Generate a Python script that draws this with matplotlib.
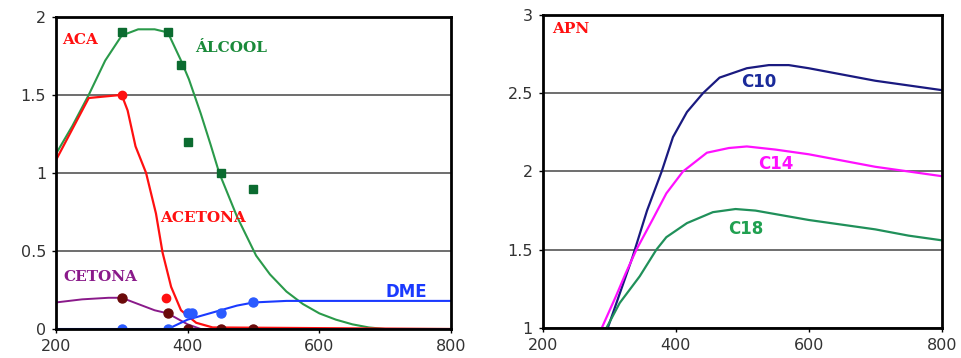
import matplotlib
matplotlib.use("Agg")
import matplotlib.pyplot as plt

# painel esquerdo - curvas
alc_x = [200, 225, 250, 275, 300, 325, 350, 370, 390, 402, 420, 435, 448, 475, 504, 525, 550, 575, 600, 625, 650, 675, 700, 800]
alc_y = [1.12, 1.3, 1.5, 1.72, 1.88, 1.92, 1.92, 1.9, 1.72, 1.6, 1.38, 1.18, 1.0, 0.72, 0.47, 0.35, 0.24, 0.16, 0.10, 0.06, 0.03, 0.01, 0.0, 0.0]
alc_px = [300, 370, 390, 400, 450, 500]
alc_py = [1.9, 1.9, 1.69, 1.2, 1.0, 0.9]

aca_x = [200, 220, 240, 250, 275, 300, 309, 321, 337, 352, 362, 375, 390, 413, 438, 800]
aca_y = [1.08, 1.24, 1.4, 1.48, 1.49, 1.5, 1.4, 1.17, 1.0, 0.74, 0.49, 0.27, 0.12, 0.04, 0.01, 0.0]
aca_px = [300, 367]
aca_py = [1.5, 0.2]

cet_x = [200, 240, 280, 300, 325, 350, 370, 400, 420, 800]
cet_y = [0.17, 0.19, 0.2, 0.2, 0.16, 0.12, 0.1, 0.03, 0.0, 0.0]
cet_px = [300, 370, 400, 450, 500]
cet_py = [0.2, 0.1, 0.0, 0.0, 0.0]

dme_x = [200, 370, 385, 400, 425, 450, 475, 500, 550, 800]
dme_y = [0.0, 0.0, 0.03, 0.06, 0.09, 0.12, 0.15, 0.17, 0.18, 0.18]
dme_px = [300, 370, 400, 407, 450, 500]
dme_py = [0.0, 0.0, 0.1, 0.1, 0.1, 0.17]

# painel direito - APN
c10_x = [298, 316, 335, 357, 379, 396, 417, 441, 466, 507, 540, 570, 600, 650, 700, 750, 800]
c10_y = [1.0, 1.22, 1.45, 1.75, 2.0, 2.22, 2.38, 2.5, 2.6, 2.66, 2.68, 2.68, 2.66, 2.62, 2.58, 2.55, 2.52]
c14_x = [289, 310, 325, 341, 365, 386, 411, 447, 480, 507, 550, 600, 650, 700, 750, 800]
c14_y = [1.0, 1.2, 1.35, 1.5, 1.69, 1.86, 2.0, 2.12, 2.15, 2.16, 2.14, 2.11, 2.07, 2.03, 2.0, 1.97]
c18_x = [296, 316, 346, 371, 386, 417, 456, 490, 520, 560, 600, 650, 700, 750, 800]
c18_y = [1.0, 1.16, 1.33, 1.5, 1.58, 1.67, 1.74, 1.76, 1.75, 1.72, 1.69, 1.66, 1.63, 1.59, 1.56]

fig = plt.figure(figsize=(9.62, 3.58), dpi=100)
ax1 = fig.add_axes([0.058, 0.081, 0.411, 0.872])
ax2 = fig.add_axes([0.564, 0.084, 0.415, 0.874])

serif = "DejaVu Serif"
sans = "DejaVu Sans"

for ax in (ax1, ax2):
    ax.set_xlim(200, 800)
    ax.set_xticks([200, 400, 600, 800])
    ax.grid(axis="y", color="#555555", lw=1.2)
    ax.set_axisbelow(True)
    for s in ax.spines.values():
        s.set_linewidth(2)
        s.set_color("black")
    ax.tick_params(labelsize=11.5, length=3, width=1, pad=4, labelcolor="#333333")

ax1.set_ylim(0, 2)
ax1.set_yticks([0, 0.5, 1, 1.5, 2])
ax1.set_yticklabels(["0", "0.5", "1", "1.5", "2"], family=sans)
ax1.set_xticklabels(["200", "400", "600", "800"], family=sans)

ax1.plot(alc_x, alc_y, color="#2a9a4a", lw=1.5)
ax1.plot(alc_px, alc_py, "s", color="#0b6b30", ms=5.5)
ax1.plot(aca_x, aca_y, color="#ff1010", lw=1.6)
ax1.plot(aca_px, aca_py, "o", color="#ff1010", ms=6)
ax1.plot(cet_x, cet_y, color="#8a1a8a", lw=1.4)
ax1.plot(cet_px, cet_py, "o", color="#6a0a0a", ms=6.5)
ax1.plot(dme_x, dme_y, color="#1a3aff", lw=1.5)
ax1.plot(dme_px, dme_py, "o", color="#2a5aff", ms=6.5)

ax1.text(209, 1.85, "ACA", color="#ff1010", family=serif, weight="bold", fontsize=11, va="center")
ax1.text(411, 1.8, "ÁLCOOL", color="#1a8a3a", family=serif, weight="bold", fontsize=11, va="center")
ax1.text(358, 0.71, "ACETONA", color="#ff1010", family=serif, weight="bold", fontsize=11, va="center")
ax1.text(211, 0.33, "CETONA", color="#8a1a8a", family=serif, weight="bold", fontsize=11, va="center")
ax1.text(700, 0.24, "DME", color="#1a3aff", family=sans, weight="bold", fontsize=12, va="center")

ax2.set_ylim(1, 3)
ax2.set_yticks([1, 1.5, 2, 2.5, 3])
ax2.set_yticklabels(["1", "1.5", "2", "2.5", "3"], family=sans)
ax2.set_xticklabels(["200", "400", "600", "800"], family=sans)

ax2.plot(c10_x, c10_y, color="#1a1a80", lw=1.6)
ax2.plot(c14_x, c14_y, color="#ff10ff", lw=1.6)
ax2.plot(c18_x, c18_y, color="#20905a", lw=1.6)

ax2.text(215, 2.91, "APN", color="#ff1010", family=serif, weight="bold", fontsize=11, va="center")
ax2.text(525, 2.57, "C10", color="#1a2a9a", family=sans, weight="bold", fontsize=12, ha="center", va="center")
ax2.text(551, 2.05, "C14", color="#ff10ff", family=sans, weight="bold", fontsize=12, ha="center", va="center")
ax2.text(505, 1.63, "C18", color="#20a050", family=sans, weight="bold", fontsize=12, ha="center", va="center")

fig.savefig("out.png", dpi=100)
